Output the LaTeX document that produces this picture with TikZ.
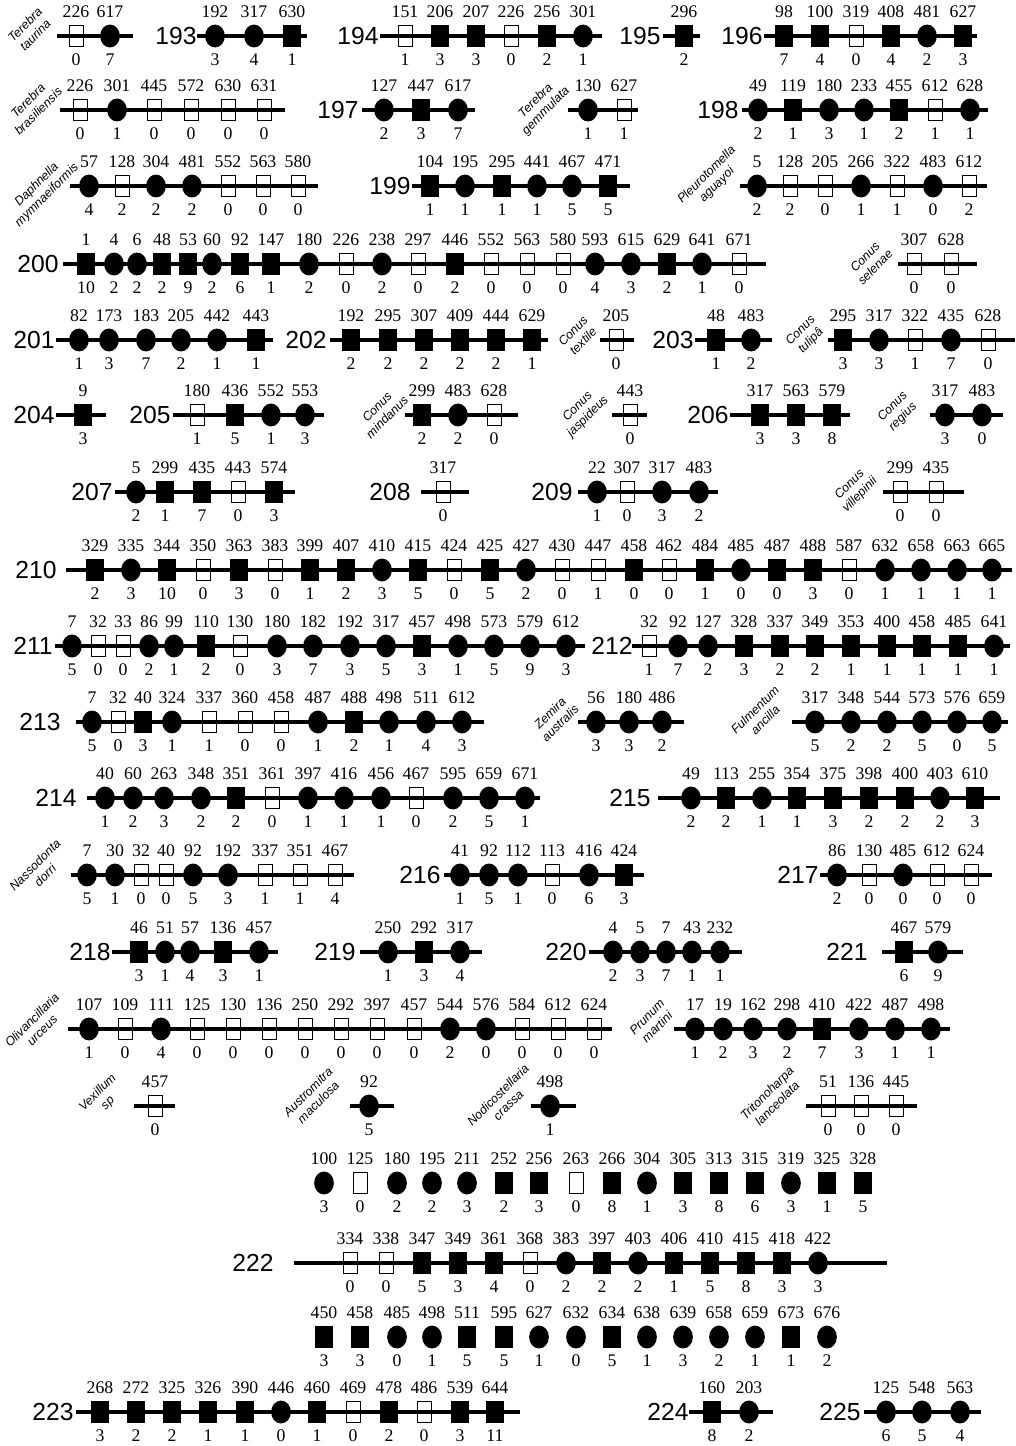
\documentclass[tikz,border=0pt]{standalone}
\usepackage{fontspec}
\setmainfont{Liberation Serif}
\setsansfont{Liberation Sans}
\usetikzlibrary{shapes.geometric}
\tikzset{
 branch/.style={line width=2.5pt, line cap=butt},
 mc/.style={ellipse, fill=black, inner sep=0pt, minimum width=14.8pt, minimum height=17.2pt},
 ms/.style={rectangle, fill=black, inner sep=0pt, minimum width=14pt, minimum height=16.5pt},
 mo/.style={rectangle, draw=black, line width=0.6pt, inner sep=0pt, minimum width=10.5pt, minimum height=16pt},
 num/.style={inner sep=0pt, font=\fontsize{13.3}{14}\selectfont},
 brl/.style={inner sep=0pt, font=\sffamily\fontsize{18.5}{20}\selectfont},
 sp/.style={inner sep=0pt, rotate=45, align=center, font=\sffamily\itshape\fontsize{9.3}{10.8}\selectfont},
}
\newcommand\brline[4]{\coordinate (#1-L) at (#3,#2); \coordinate (#1-R) at (#4,#2); \draw[branch] (#1-L) -- (#1-R);}
\newcommand\mkrow[3]{%
 \foreach \qx/\qt/\qa/\qb [count=\qi] in {#3} {
  \node[m\qt] (#1-\qi) at (\qx,#2) {};
  \node[num] (#1-t\qi) at (\qx,#2-24) {\qa};
  \node[num] (#1-b\qi) at (\qx,#2+24) {\qb};
 }}
\newcommand\brrow[5]{\brline{#1}{#2}{#3}{#4}\mkrow{#1}{#2}{#5}}
\begin{document}
\begin{tikzpicture}[x=0.75pt,y=-0.75pt]
\fill[white] (0,0) rectangle (1015,1446);
\useasboundingbox (0,0) rectangle (1015,1446);
% Row 1
\node[sp] (spTt) at (30,30) {Terebra\\taurina};
\brrow{gTt}{36}{57}{133}{76/o/226/0, 110/c/617/7}
\node[brl] (l193) at (176,36) {193};
\brrow{b193}{36}{197}{307}{215/c/192/3, 254/c/317/4, 292/s/630/1}
\node[brl] (l194) at (358,36) {194};
\brrow{b194}{36}{380}{602}{405/o/151/1, 440/s/206/3, 476/s/207/3, 511/o/226/0, 547/s/256/2, 583/c/301/1}
\node[brl] (l195) at (640,36) {195};
\brrow{b195}{36}{663}{700}{684/s/296/2}
\node[brl] (l196) at (742,36) {196};
\brrow{b196}{36}{764}{977}{784/s/98/7, 820/s/100/4, 856/o/319/0, 891/s/408/4, 927/c/481/2, 963/s/627/3}
% Row 2
\node[sp] (spTb) at (33,106) {Terebra\\brasiliensis};
\brrow{gTb}{110}{60}{285}{80/o/226/0, 117/c/301/1, 154/o/445/0, 191/o/572/0, 228/o/630/0, 264/o/631/0}
\node[brl] (l197) at (338,110) {197};
\brrow{b197}{110}{362}{475}{384/c/127/2, 421/s/447/3, 458/c/617/7}
\node[sp] (spTg) at (541,106) {Terebra\\gemmulata};
\brrow{gTg}{110}{568}{638}{588/c/130/1, 624/o/627/1}
\node[brl] (l198) at (718,110) {198};
\brrow{b198}{110}{742}{988}{758/c/49/2, 793/s/119/1, 829/c/180/3, 864/c/233/1, 899/s/455/2, 935/o/612/1, 970/c/628/1}
% Row 3
\node[sp] (spDm) at (42,190) {Daphnella\\mymnaeiformis};
\brrow{gDm}{186}{70}{318}{89/c/57/4, 122/o/128/2, 156/c/304/2, 192/c/481/2, 228/o/552/0, 263/o/563/0, 298/o/580/0}
\node[brl] (l199) at (390,186) {199};
\brrow{b199}{186}{412}{630}{430/s/104/1, 465/c/195/1, 502/s/295/1, 537/c/441/1, 572/c/467/5, 608/s/471/5}
\node[sp] (spPa) at (712,180) {Pleurotomella\\aguayoi};
\brrow{gPa}{186}{740}{987}{757/c/5/2, 790/o/128/2, 825/o/205/0, 861/c/266/1, 897/o/322/1, 933/c/483/0, 969/o/612/2}
% Row 4
\node[brl] (l200) at (38,264) {200};
\brrow{b200}{264}{63}{766}{86/s/1/10, 114/c/4/2, 137/c/6/2, 162/s/48/2, 188/s/53/9, 212/c/60/2, 240/s/92/6, 271/s/147/1, 309/c/180/2, 346/o/226/0, 382/c/238/2, 418/o/297/0, 455/s/446/2, 491/o/552/0, 527/o/563/0, 563/o/580/0, 595/c/593/4, 631/c/615/3, 667/s/629/2, 702/c/641/1, 739/o/671/0}
\node[sp] (spCs) at (870,262) {Conus\\selenae};
\brrow{gCs}{264}{898}{977}{914/o/307/0, 951/o/628/0}
% Row 5
\node[brl] (l201) at (34,340) {201};
\brrow{b201}{340}{56}{273}{79/c/82/1, 109/c/173/3, 146/c/183/7, 181/c/205/2, 217/c/442/1, 256/s/443/1}
\node[brl] (l202) at (306,340) {202};
\brrow{b202}{340}{330}{548}{351/s/192/2, 388/s/295/2, 424/s/307/2, 460/s/409/2, 496/s/444/2, 532/s/629/1}
\node[sp] (spCx) at (578,336) {Conus\\textile};
\brrow{gCx}{340}{600}{634}{616/o/205/0}
\node[brl] (l203) at (673,340) {203};
\brrow{b203}{340}{695}{772}{716/s/48/1, 751/c/483/2}
\node[sp] (spCt) at (806,336) {Conus\\tulipâ};
\brrow{gCt}{340}{828}{1015}{843/s/295/3, 879/c/317/3, 915/o/322/1, 951/c/435/7, 988/o/628/0}
% Row 6
\node[brl] (l204) at (34,415) {204};
\brrow{b204}{415}{56}{106}{83/s/9/3}
\node[brl] (l205) at (150,415) {205};
\brrow{b205}{415}{173}{324}{197/o/180/1, 235/s/436/5, 271/c/552/1, 305/c/553/3}
\node[sp] (spCm) at (382,412) {Conus\\mindanus};
\brrow{gCm}{415}{405}{518}{422/s/299/2, 458/c/483/2, 494/o/628/0}
\node[sp] (spCj) at (583,412) {Conus\\jaspideus};
\brrow{gCj}{415}{612}{647}{630/o/443/0}
\node[brl] (l206) at (708,415) {206};
\brrow{b206}{415}{730}{850}{760/s/317/3, 796/s/563/3, 832/s/579/8}
\node[sp] (spCr) at (898,412) {Conus\\regius};
\brrow{gCr}{415}{930}{1003}{945/c/317/3, 982/c/483/0}
% Row 7
\node[brl] (l207) at (92,492) {207};
\brrow{b207}{492}{115}{295}{136/c/5/2, 165/s/299/1, 202/s/435/7, 238/o/443/0, 274/s/574/3}
\node[brl] (l208) at (390,492) {208};
\brrow{b208}{492}{421}{469}{443/o/317/0}
\node[brl] (l209) at (552,492) {209};
\brrow{b209}{492}{578}{718}{597/c/22/1, 627/o/307/0, 662/c/317/3, 699/c/483/2}
\node[sp] (spCv) at (855,490) {Conus\\villepinii};
\brrow{gCv}{492}{883}{964}{900/o/299/0, 936/o/435/0}
% Row 8
\node[brl] (l210) at (36,570) {210};
\brrow{b210}{570}{66}{1012}{95/s/329/2, 131/c/335/3, 167/s/344/10, 203/o/350/0, 239/s/363/3, 275/o/383/0, 310/s/399/1, 346/s/407/2, 382/c/410/3, 418/s/415/5, 454/o/424/0, 490/s/425/5, 526/c/427/2, 562/o/430/0, 598/o/447/1, 634/s/458/0, 669/o/462/0, 705/s/484/1, 741/c/485/0, 777/s/487/0, 813/s/488/3, 849/o/587/0, 885/c/632/1, 921/c/658/1, 957/c/663/1, 992/c/665/1}
% Row 9
\node[brl] (l211) at (33,646) {211};
\brrow{b211}{646}{55}{585}{72/c/7/5, 98/o/32/0, 123/o/33/0, 149/c/86/2, 174/c/99/1, 206/s/110/2, 240/o/130/0, 277/c/180/3, 313/c/182/7, 350/c/192/3, 386/c/317/5, 422/s/457/3, 458/c/498/1, 494/c/573/5, 530/c/579/9, 566/c/612/3}
\node[brl] (l212) at (612,646) {212};
\brrow{b212}{646}{632}{1010}{649/o/32/1, 678/c/92/7, 708/c/127/2, 744/s/328/3, 780/s/337/2, 815/s/349/2, 851/s/353/1, 887/s/400/1, 922/s/458/1, 958/s/485/1, 994/c/641/1}
% Row 10
\node[brl] (l213) at (40,722) {213};
\brrow{b213}{722}{76}{484}{92/c/7/5, 118/o/32/0, 143/s/40/3, 172/c/324/1, 209/o/337/1, 245/o/360/0, 281/o/458/0, 318/c/487/1, 354/s/488/2, 389/c/498/1, 426/c/511/4, 462/c/612/3}
\node[sp] (spZa) at (555,718) {Zemira\\australis};
\brrow{gZa}{722}{578}{684}{596/c/56/3, 629/c/180/3, 662/c/486/2}
\node[sp] (spFa) at (760,715) {Fulmentum\\ancilla};
\brrow{gFa}{722}{792}{1008}{815/c/317/5, 851/c/348/2, 887/c/544/2, 922/c/573/5, 957/c/576/0, 992/c/659/5}
% Row 11
\node[brl] (l214) at (56,798) {214};
\brrow{b214}{798}{87}{540}{105/c/40/1, 133/c/60/2, 164/c/263/3, 201/c/348/2, 236/s/351/2, 272/o/361/0, 308/c/397/1, 344/c/416/1, 381/c/456/1, 416/o/467/0, 453/c/595/2, 489/c/659/5, 525/c/671/1}
\node[brl] (l215) at (630,798) {215};
\brrow{b215}{798}{658}{1000}{691/c/49/2, 726/s/113/2, 762/c/255/1, 797/s/354/1, 833/s/375/3, 869/s/398/2, 905/s/400/2, 940/c/403/2, 975/s/610/3}
% Row 12
\node[sp] (spNd) at (40,870) {Nassodonta\\dorri};
\brrow{gNd}{875}{71}{354}{87/c/7/5, 115/c/30/1, 141/o/32/0, 166/o/40/0, 193/c/92/5, 228/c/192/3, 265/o/337/1, 300/o/351/1, 335/o/467/4}
\node[brl] (l216) at (420,875) {216};
\brrow{b216}{875}{444}{644}{460/c/41/1, 489/c/92/5, 518/c/112/1, 552/o/113/0, 589/c/416/6, 624/s/424/3}
\node[brl] (l217) at (798,875) {217};
\brrow{b217}{875}{820}{992}{837/c/86/2, 869/o/130/0, 903/c/485/0, 937/o/612/0, 971/o/624/0}
% Row 13
\node[brl] (l218) at (90,952) {218};
\brrow{b218}{952}{112}{278}{139/s/46/3, 165/c/51/1, 190/c/57/4, 223/s/136/3, 259/c/457/1}
\node[brl] (l219) at (335,952) {219};
\brrow{b219}{952}{360}{482}{388/c/250/1, 424/s/292/3, 460/c/317/4}
\node[brl] (l220) at (566,952) {220};
\brrow{b220}{952}{589}{742}{613/c/4/2, 640/c/5/3, 666/c/7/7, 692/c/43/1, 720/c/232/1}
\node[brl] (l221) at (847,952) {221};
\brrow{b221}{952}{882}{963}{904/s/467/6, 938/c/579/9}
% Row 14
\node[sp] (spOu) at (37,1025) {Olivancillaria\\urceus};
\brrow{gOu}{1029}{68}{612}{89/c/107/1, 125/o/109/0, 161/c/111/4, 197/o/125/0, 233/o/130/0, 269/o/136/0, 305/o/250/0, 341/o/292/0, 377/o/397/0, 414/o/457/0, 450/c/544/2, 486/c/576/0, 522/o/584/0, 558/o/612/0, 594/o/624/0}
\node[sp] (spPm) at (652,1022) {Prunum\\martini};
\brrow{gPm}{1029}{674}{950}{695/c/17/1, 723/c/19/2, 753/c/162/3, 787/c/298/2, 822/s/410/7, 859/c/422/3, 895/c/487/1, 931/c/498/1}
% Row 15
\node[sp] (spVs) at (103,1098) {Vexillum\\sp};
\brrow{gVs}{1106}{134}{175}{155/o/457/0}
\node[sp] (spAm) at (313,1097) {Austromitra\\maculosa};
\brrow{gAm}{1106}{350}{394}{369/c/92/5}
\node[sp] (spNc) at (503,1100) {Nodicostellaria\\crassa};
\brrow{gNc}{1106}{531}{576}{550/c/498/1}
\node[sp] (spTl) at (772,1098) {Tritonoharpa\\lanceolata};
\brrow{gTl}{1106}{806}{917}{828/o/51/0, 861/o/136/0, 896/o/445/0}
% Branch 222
\mkrow{b222a}{1183}{324/c/100/3, 360/o/125/0, 397/c/180/2, 432/c/195/2, 467/c/211/3, 504/s/252/2, 539/s/256/3, 576/o/263/0, 612/s/266/8, 647/c/304/1, 683/s/305/3, 719/s/313/8, 755/s/315/6, 791/c/319/3, 827/s/325/1, 863/s/328/5}
\node[brl] (l222) at (253,1263) {222};
\brrow{b222}{1263}{294}{887}{350/o/334/0, 386/o/338/0, 422/s/347/5, 458/s/349/3, 494/s/361/4, 530/o/368/0, 566/c/383/2, 602/s/397/2, 638/c/403/2, 674/s/406/1, 710/s/410/5, 746/s/415/8, 782/s/418/3, 818/c/422/3}
\mkrow{b222c}{1337}{324/s/450/3, 360/s/458/3, 397/c/485/0, 432/c/498/1, 467/s/511/5, 504/s/595/5, 539/c/627/1, 576/c/632/0, 612/s/634/5, 647/c/638/1, 683/c/639/3, 719/c/658/2, 755/c/659/1, 791/s/673/1, 827/c/676/2}
% Row 19
\node[brl] (l223) at (53,1412) {223};
\brrow{b223}{1412}{76}{520}{100/s/268/3, 136/s/272/2, 172/s/325/2, 208/s/326/1, 245/s/390/1, 281/c/446/0, 317/s/460/1, 353/o/469/0, 389/s/478/2, 424/o/486/0, 460/s/539/3, 495/s/644/11}
\node[brl] (l224) at (668,1412) {224};
\brrow{b224}{1412}{689}{773}{712/s/160/8, 749/c/203/2}
\node[brl] (l225) at (840,1412) {225};
\brrow{b225}{1412}{864}{981}{886/c/125/6, 922/c/548/5, 960/c/563/4}
\end{tikzpicture}
\end{document}
